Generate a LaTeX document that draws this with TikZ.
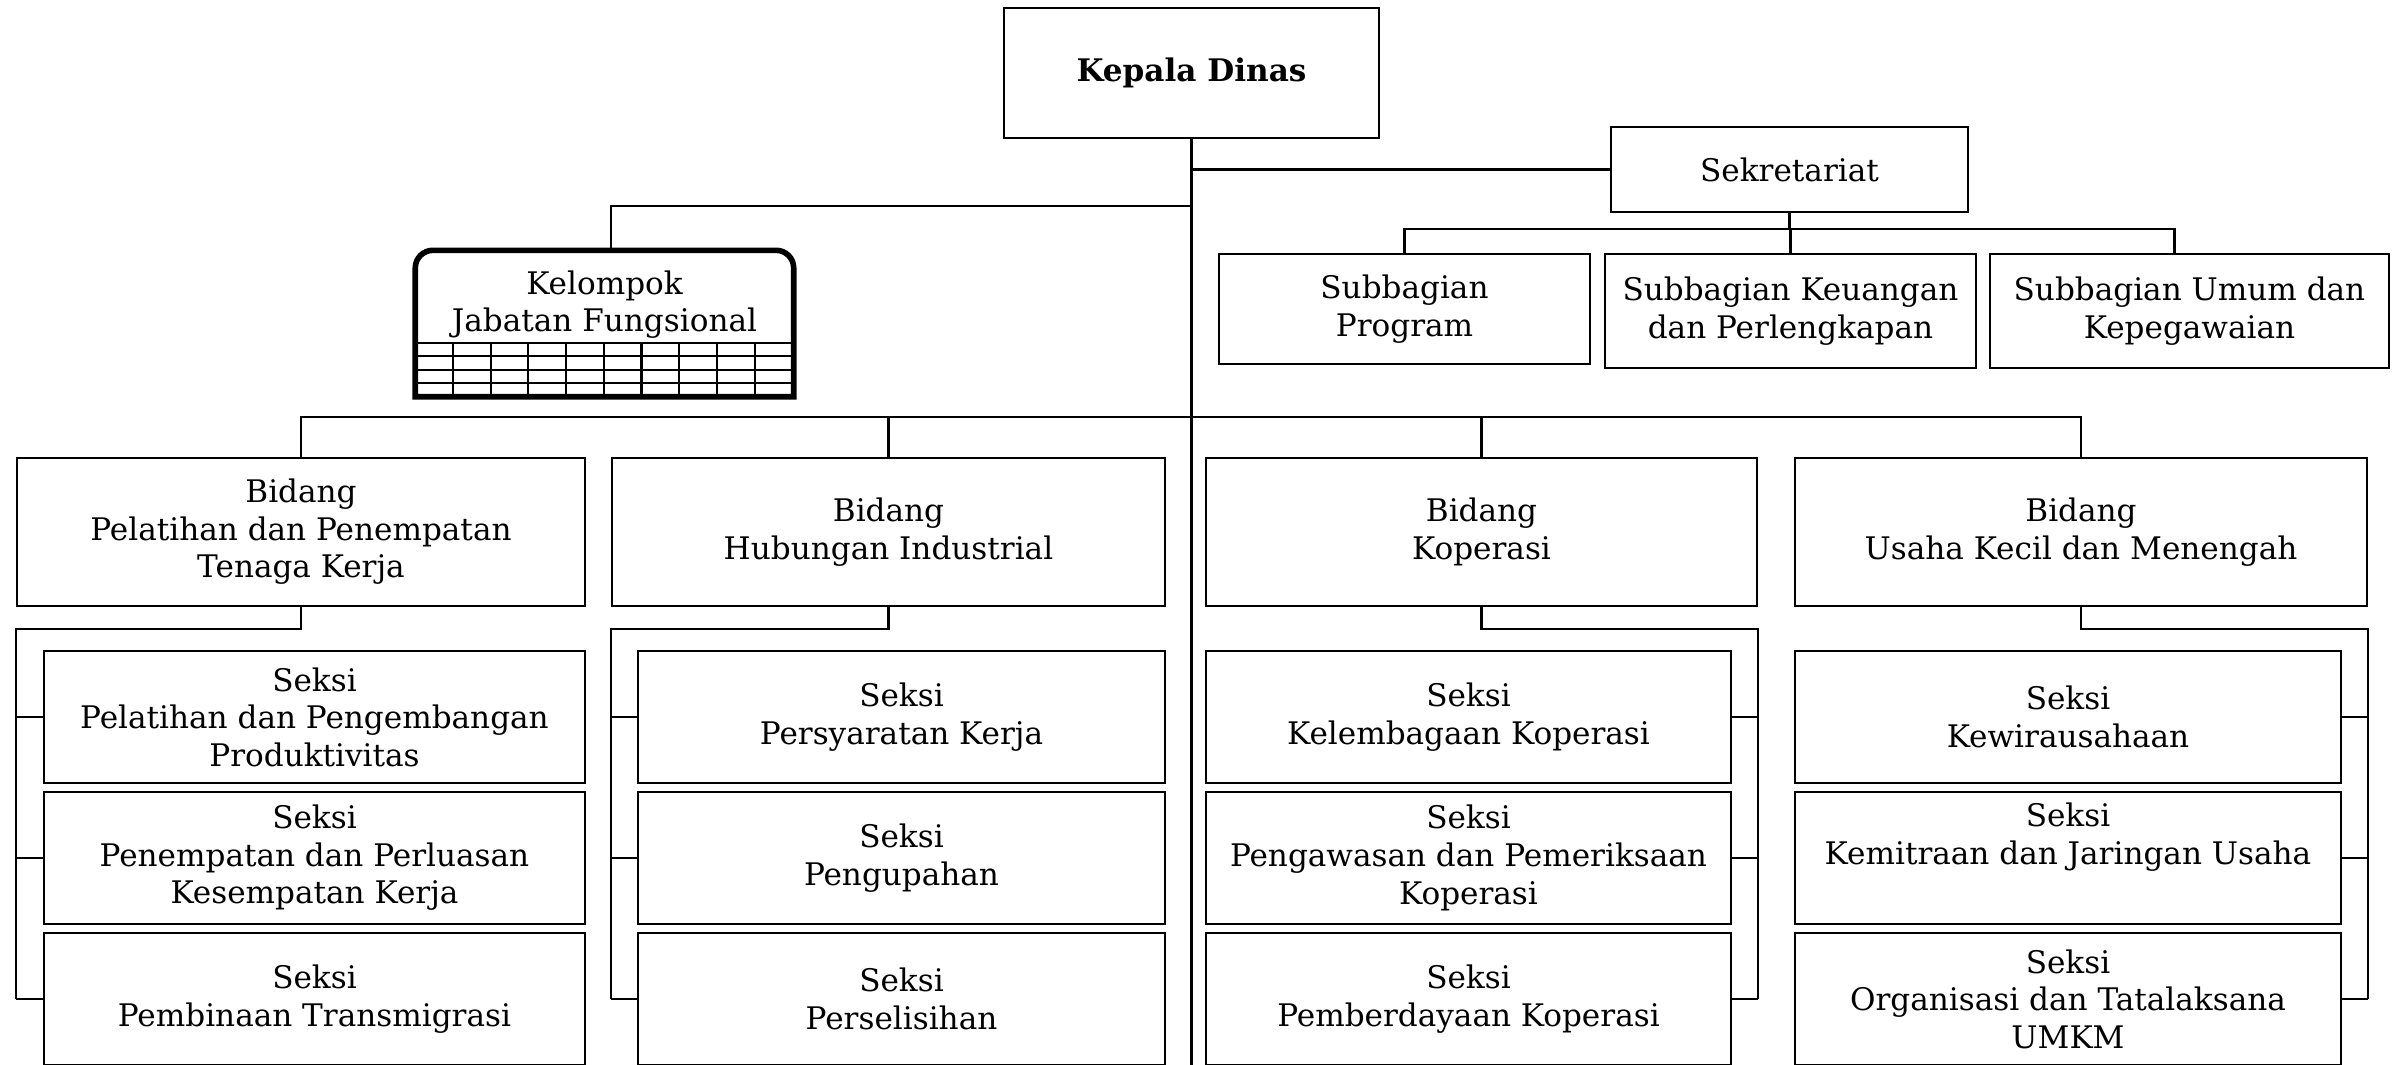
\documentclass[tikz,border=0pt]{standalone}
\usepackage{fontspec}
\setmainfont{DejaVu Serif}
\usetikzlibrary{positioning}

\begin{document}
\begin{tikzpicture}[
    teks/.style={font=\fontsize{8.85}{10.7}\selectfont},
    unit/.style={shape=rectangle, draw=black, line width=0.7pt, align=center, inner sep=1pt, teks},
    garis/.style={line width=0.6pt},
  ]
    \useasboundingbox (0,0) rectangle (24.03,-10.64);

    % pimpinan
    \node[unit, minimum width=3.75cm, minimum height=1.30cm, font=\fontsize{8.85}{10.7}\selectfont\bfseries] (kadis) at (11.915,-0.73) {Kepala Dinas};
    \coordinate (ujung) at (11.915,-10.80);
    \draw[garis] (kadis.south) -- (ujung);

    % sekretariat
    \node[unit, minimum width=3.57cm, minimum height=0.85cm] (sekre) at (17.895,-1.695) {Sekretariat};
    \draw[garis] (sekre.west) -- (sekre.west -| kadis.south);

    \node[unit, minimum width=3.71cm, minimum height=1.10cm] (subprog) at (14.045,-3.09) {Subbagian\\Program};
    \node[unit, minimum width=3.71cm, minimum height=1.14cm] (subkeu) at (17.905,-3.11) {Subbagian Keuangan\\dan Perlengkapan};
    \node[unit, minimum width=3.99cm, minimum height=1.14cm] (subum) at (21.895,-3.11) {Subbagian Umum dan\\Kepegawaian};
    \coordinate (sekbus) at (17.90,-2.29);
    \coordinate (subumtop) at ([xshift=-0.15cm]subum.north);
    \draw[garis] (sekre.south) -- (sekre.south |- sekbus);
    \draw[garis] (subprog.north) -- (subprog.north |- sekbus) -- (subumtop |- sekbus) -- (subumtop);
    \draw[garis] (subkeu.north) -- (subkeu.north |- sekbus);

    % jabatan fungsional
    \node[minimum width=3.77cm, minimum height=1.45cm, inner sep=0pt] (jafung) at (6.045,-3.235) {};
    \node[anchor=north, minimum height=0.91cm, align=center, inner sep=0pt, teks, yshift=-0.08cm] (jftext) at (jafung.north) {Kelompok\\Jabatan Fungsional};
    \foreach \r in {1,...,4}
        \draw[garis] ([yshift=\r*0.135cm]jafung.south west) -- ([yshift=\r*0.135cm]jafung.south east);
    \foreach \c in {1,...,9}
        \draw[garis] ([xshift=\c*0.377cm]jafung.south west) -- ++(0,0.54);
    \draw[line width=1.6pt] (jafung.west) [rounded corners=5pt] -- (jafung.north west) -- (jafung.north east) -- (jafung.east)
        [sharp corners] -- (jafung.south east) -- (jafung.south west) -- cycle;
    \coordinate (jftop) at ([xshift=0.065cm]jafung.north);
    \coordinate (jfbelok) at (11.915,-2.06);
    \draw[garis] (jftop) |- (jfbelok);

    % bidang
    \node[unit, minimum width=5.68cm, minimum height=1.48cm] (bid1) at (3.010,-5.32) {Bidang\\Pelatihan dan Penempatan\\Tenaga Kerja};
    \node[unit, minimum width=5.53cm, minimum height=1.48cm] (bid2) at (8.885,-5.32) {Bidang\\Hubungan Industrial};
    \node[unit, minimum width=5.51cm, minimum height=1.48cm] (bid3) at (14.815,-5.32) {Bidang\\Koperasi};
    \node[unit, minimum width=5.72cm, minimum height=1.48cm] (bid4) at (20.810,-5.32) {Bidang\\Usaha Kecil dan Menengah};
    \coordinate (bus) at (11.915,-4.17);
    \draw[garis] (bid1.north) -- (bid1.north |- bus) -- (bid4.north |- bus) -- (bid4.north);
    \draw[garis] (bid2.north) -- (bid2.north |- bus);
    \draw[garis] (bid3.north) -- (bid3.north |- bus);

    % seksi
    \node[unit, minimum width=5.41cm, minimum height=1.32cm] (s11) at (3.145,-7.17) {Seksi\\Pelatihan dan Pengembangan\\Produktivitas};
    \node[unit, minimum width=5.41cm, minimum height=1.32cm] (s12) at (3.145,-8.58) {Seksi\\Penempatan dan Perluasan\\Kesempatan Kerja};
    \node[unit, minimum width=5.41cm, minimum height=1.32cm] (s13) at (3.145,-9.99) {Seksi\\Pembinaan Transmigrasi};

    \node[unit, minimum width=5.27cm, minimum height=1.32cm] (s21) at (9.015,-7.17) {Seksi\\Persyaratan Kerja};
    \node[unit, minimum width=5.27cm, minimum height=1.32cm] (s22) at (9.015,-8.58) {Seksi\\Pengupahan};
    \node[unit, minimum width=5.27cm, minimum height=1.32cm] (s23) at (9.015,-9.99) {Seksi\\Perselisihan};

    \node[unit, minimum width=5.25cm, minimum height=1.32cm] (s31) at (14.685,-7.17) {Seksi\\Kelembagaan Koperasi};
    \node[unit, minimum width=5.25cm, minimum height=1.32cm] (s32) at (14.685,-8.58) {Seksi\\Pengawasan dan Pemeriksaan\\Koperasi};
    \node[unit, minimum width=5.25cm, minimum height=1.32cm] (s33) at (14.685,-9.99) {Seksi\\Pemberdayaan Koperasi};

    \node[unit, minimum width=5.46cm, minimum height=1.32cm] (s41) at (20.680,-7.17) {Seksi\\Kewirausahaan};
    \node[unit, minimum width=5.46cm, minimum height=1.32cm] (s42) at (20.680,-8.58) {Seksi\\Kemitraan dan Jaringan Usaha\\\strut};
    \node[unit, minimum width=5.46cm, minimum height=1.32cm] (s43) at (20.680,-9.99) {Seksi\\Organisasi dan Tatalaksana\\UMKM};

    % garis bidang ke seksi
    \draw[garis] (bid1.south) -- ++(0,-0.22) -| (bid1.west |- s13.west);
    \draw[garis] (bid2.south) -- ++(0,-0.22) -| (bid2.west |- s23.west);
    \draw[garis] (bid3.south) -- ++(0,-0.22) -| (bid3.east |- s33.east);
    \draw[garis] (bid4.south) -- ++(0,-0.22) -| (bid4.east |- s43.east);
    \foreach \s in {s11,s12,s13}
        \draw[garis] (\s.west) -- (\s.west -| bid1.west);
    \foreach \s in {s21,s22,s23}
        \draw[garis] (\s.west) -- (\s.west -| bid2.west);
    \foreach \s in {s31,s32,s33}
        \draw[garis] (\s.east) -- (\s.east -| bid3.east);
    \foreach \s in {s41,s42,s43}
        \draw[garis] (\s.east) -- (\s.east -| bid4.east);
\end{tikzpicture}
\end{document}
